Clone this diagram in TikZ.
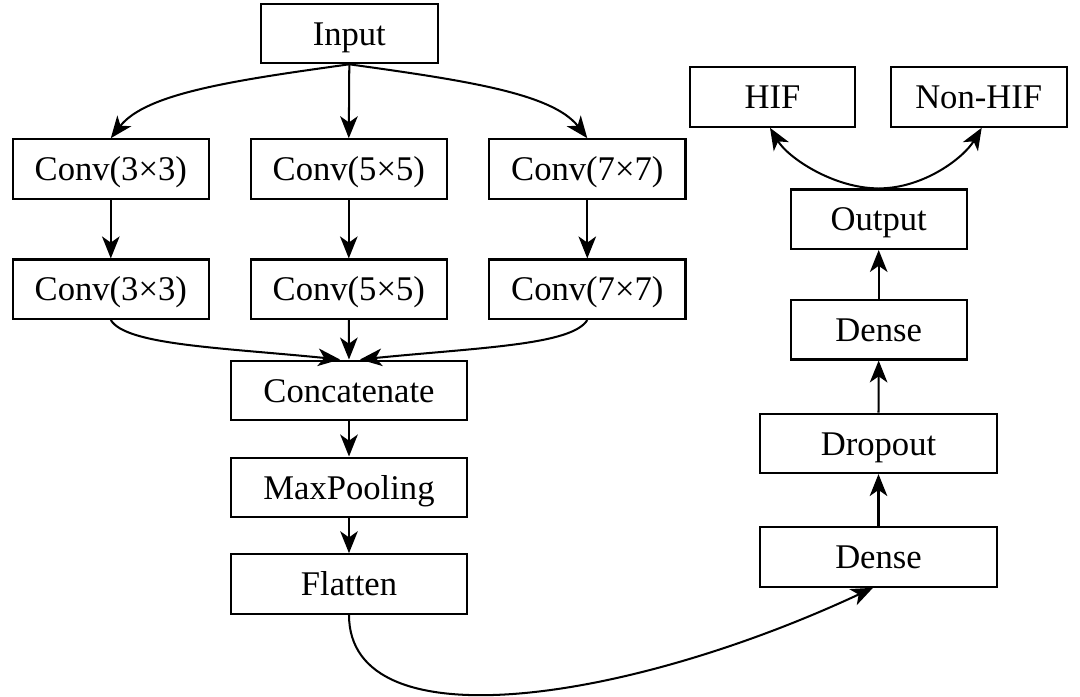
\documentclass[tikz,border=0pt]{standalone}
\usepackage{fontspec}
\setmainfont{Liberation Serif}
\usetikzlibrary{arrows.meta}
\begin{document}
\begin{tikzpicture}[x=0.02cm,y=-0.02cm,
  box/.style={draw,line width=1.2pt,inner sep=0pt,minimum height=1.19cm,text height=13.4pt,text depth=0pt,font=\fontsize{19.7}{23}\selectfont},
  arr/.style={line width=1.15pt,-{Stealth[length=12.5pt,width=10pt,inset=3.5pt]}}]
\useasboundingbox (0,0) rectangle (1080,697);
% left column
\node[box,minimum width=3.534cm] (in) at (349.3,33.5) {Input};
\node[box,minimum width=3.93cm] (c3a) at (110.8,169) {Conv(3×3)};
\node[box,minimum width=3.93cm] (c5a) at (348.8,169) {Conv(5×5)};
\node[box,minimum width=3.93cm] (c7a) at (587.3,169) {Conv(7×7)};
\node[box,minimum width=3.93cm] (c3b) at (110.8,289.2) {Conv(3×3)};
\node[box,minimum width=3.93cm] (c5b) at (348.8,289.2) {Conv(5×5)};
\node[box,minimum width=3.93cm] (c7b) at (587.3,289.2) {Conv(7×7)};
\node[box,minimum width=4.73cm] (cat) at (349,390.3) {Concatenate};
\node[box,minimum width=4.73cm] (mp) at (349,487.3) {MaxPooling};
\node[box,minimum width=4.73cm] (fl) at (349,584) {Flatten};
% right column
\node[box,minimum width=3.3cm] (hif) at (772.5,97) {HIF};
\node[box,minimum width=3.52cm] (nhif) at (978.7,97) {Non-HIF};
\node[box,minimum width=3.52cm] (out) at (878.7,219.2) {Output};
\node[box,minimum width=3.52cm] (d1) at (878.7,329.7) {Dense};
\node[box,minimum width=4.73cm] (drop) at (878.5,443.3) {Dropout};
\node[box,minimum width=4.73cm] (d2) at (878.5,557) {Dense};
% connectors left
\draw[arr] (in.south) .. controls +(-115,16) and +(35,-45) .. (c3a.north);
\draw[arr] (in.south) -- (c5a.north);
\draw[arr] (in.south) .. controls +(115,16) and +(-35,-45) .. (c7a.north);
\draw[arr] (c3a.south) -- (c3b.north);
\draw[arr] (c5a.south) -- (c5b.north);
\draw[arr] (c7a.south) -- (c7b.north);
\draw[arr] (c3b.south) .. controls +(15,25) and +(-120,-12) .. ([xshift=-0.18cm]cat.north);
\draw[arr] (c5b.south) -- (cat.north);
\draw[arr] (c7b.south) .. controls +(-15,25) and +(120,-12) .. ([xshift=0.22cm]cat.north);
\draw[arr] (cat.south) -- (mp.north);
\draw[arr] (mp.south) -- (fl.north);
% connectors right
\draw[arr] (fl.south) .. controls +(0,130) and +(-244.7,114.1) .. ([xshift=-0.11cm]d2.south);
\draw[arr] (d2.north) -- (drop.south);
\draw[arr] (drop.north) -- (d1.south);
\draw[arr] (d1.north) -- (out.south);
\draw[arr] (out.north) .. controls +(-45,0) and +(18,30) .. ([xshift=-0.05cm]hif.south);
\draw[arr] (out.north) .. controls +(45,0) and +(-18,30) .. ([xshift=0.06cm]nhif.south);
\end{tikzpicture}
\end{document}
